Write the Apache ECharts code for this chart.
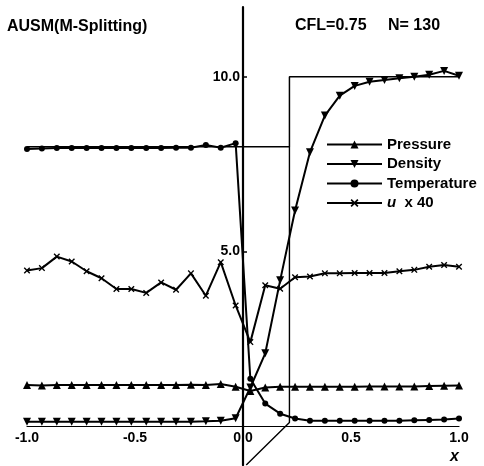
<!DOCTYPE html>
<html><head><meta charset="utf-8">
<script src="https://cdn.jsdelivr.net/npm/echarts@6/dist/echarts.min.js"></script>
<style>html,body{margin:0;padding:0;background:#fff}#c{width:484px;height:466px}</style>
</head><body><div id="c"></div>
<script>
// ---- data ----
const xs = [-1.0, -0.931, -0.862, -0.793, -0.724, -0.655, -0.586, -0.517, -0.448, -0.379,
            -0.31, -0.241, -0.172, -0.103, -0.034, 0.034, 0.103, 0.172, 0.241, 0.31,
            0.379, 0.448, 0.517, 0.586, 0.655, 0.724, 0.793, 0.862, 0.931, 1.0];
const pressure = [1.17, 1.16, 1.17, 1.17, 1.17, 1.17, 1.17, 1.17, 1.17, 1.17,
                  1.17, 1.18, 1.17, 1.2, 1.12, 1.0, 1.1, 1.12, 1.12, 1.12,
                  1.12, 1.12, 1.12, 1.13, 1.13, 1.13, 1.13, 1.14, 1.15, 1.16];
const density = [0.12, 0.12, 0.12, 0.12, 0.12, 0.12, 0.12, 0.12, 0.12, 0.12,
                 0.12, 0.12, 0.13, 0.15, 0.22, 1.1, 2.08, 4.17, 6.17, 7.84,
                 8.89, 9.46, 9.74, 9.86, 9.91, 9.96, 10.0, 10.06, 10.17, 10.03];
const temperature = [7.93, 7.95, 7.96, 7.96, 7.96, 7.96, 7.96, 7.96, 7.96, 7.96,
                     7.97, 7.97, 8.05, 7.97, 8.1, 1.35, 0.64, 0.35, 0.21, 0.15,
                     0.15, 0.15, 0.15, 0.15, 0.15, 0.15, 0.16, 0.17, 0.18, 0.21];
const u40 = [4.45, 4.52, 4.85, 4.71, 4.43, 4.23, 3.92, 3.92, 3.81, 4.11,
             3.9, 4.37, 3.73, 4.69, 3.45, 2.4, 4.03, 3.93, 4.26, 4.28,
             4.37, 4.37, 4.38, 4.38, 4.38, 4.43, 4.47, 4.56, 4.61, 4.56];
const exactUpperX = [-1.0, 0.215, 0.215, 1.0];
const exactUpperY = [8.0, 8.0, 10.0, 10.0];
const exactLowerX = [0.215, 0.215, 0.015];
const exactLowerY = [8.0, 0.1, -1.12];
const xTickValues = [-1.0, -0.5, 0.0, 0.5, 1.0];
const yTickValues = [5.0, 10.0];
const seriesNames = ['Pressure', 'Density', 'Temperature', 'u x 40'];

const FONT = 'Liberation Sans';
const pair = (xa, ya) => xa.map((x, i) => [x, ya[i]]);
const crossPath = 'path://M0,1.5L1.5,0L5,3.5L8.5,0L10,1.5L6.5,5L10,8.5L8.5,10L5,6.5L1.5,10L0,8.5L3.5,5Z';

// grid geometry (layout only)
const G = {left: 27, right: 25, top: 7, bottom: 1, W: 484, H: 466};
const X_MIN = -1, X_MAX = 1, Y_MIN = -1.12, Y_MAX = 12;
const gw = G.W - G.left - G.right, gh = G.H - G.top - G.bottom;
const zeroXpx = gw * (0 - X_MIN) / (X_MAX - X_MIN);          // from grid left
const zeroYpx = gh * (0 - Y_MIN) / (Y_MAX - Y_MIN);          // from grid bottom

const chart = echarts.init(document.getElementById('c'), null, {renderer: 'canvas'});
const dataLine = {color: '#000', width: 2};
function dataSeries(name, ys, symbol, size, rotate) {
  return {
    name, type: 'line', data: pair(xs, ys), symbol, symbolSize: size, symbolRotate: rotate || 0,
    showAllSymbol: true, lineStyle: dataLine, itemStyle: {color: '#000'}, z: 3, animation: false
  };
}
chart.setOption({
  backgroundColor: '#fff',
  animation: false,
  title: [
    {text: 'AUSM(M-Splitting)', left: 7, top: 19, padding: 0,
     textStyle: {fontFamily: FONT, fontSize: 16, fontWeight: 'bold', color: '#000'}},
    {text: 'CFL=0.75', left: 295, top: 18, padding: 0,
     textStyle: {fontFamily: FONT, fontSize: 16, fontWeight: 'bold', color: '#000'}},
    {text: 'N= 130', left: 388, top: 18, padding: 0,
     textStyle: {fontFamily: FONT, fontSize: 16, fontWeight: 'bold', color: '#000'}}
  ],
  graphic: [
    {type: 'text', left: 450, top: 449,
     style: {text: 'x', font: 'italic bold 16px "Liberation Sans"', fill: '#000'}}
  ],
  legend: {
    data: seriesNames, orient: 'vertical', left: 326, top: 137,
    itemWidth: 55, itemHeight: 10, itemGap: 4.5, padding: 0,
    textStyle: {fontFamily: FONT, fontSize: 15, fontWeight: 'bold', color: '#000',
                rich: {i: {fontFamily: FONT, fontSize: 15, fontWeight: 'bold', fontStyle: 'italic', color: '#000'}}},
    formatter: n => n === 'u x 40' ? '{i|u}  x 40' : n
  },
  grid: {left: G.left, right: G.right, top: G.top, bottom: G.bottom, containLabel: false, outerBoundsMode: 'none'},
  xAxis: {
    type: 'value', min: X_MIN, max: X_MAX, interval: 0.5,
    position: 'bottom', offset: -zeroYpx,
    axisLine: {show: true, onZero: false, lineStyle: {color: '#000', width: 1.2}},
    axisTick: {show: false},
    splitLine: {show: false},
    axisLabel: {fontFamily: FONT, fontSize: 14, fontWeight: 'bold', color: '#000', margin: 5,
                customValues: xTickValues, formatter: v => v.toFixed(1)}
  },
  yAxis: {
    type: 'value', min: Y_MIN, max: Y_MAX,
    position: 'left', offset: -zeroXpx,
    axisLine: {show: true, onZero: false, lineStyle: {color: '#000', width: 2.2}},
    axisTick: {show: true, inside: true, length: 4, customValues: yTickValues, lineStyle: {color: '#000', width: 1.5}},
    splitLine: {show: false},
    axisLabel: {fontFamily: FONT, fontSize: 14, fontWeight: 'bold', color: '#000', margin: 3,
                customValues: yTickValues, formatter: v => v.toFixed(1)}
  },
  series: [
    {name: 'exactUpper', type: 'line', data: pair(exactUpperX, exactUpperY), symbol: 'none',
     lineStyle: {color: '#000', width: 1.5}, z: 2},
    {name: 'exactLower', type: 'line', data: pair(exactLowerX, exactLowerY), symbol: 'none',
     lineStyle: {color: '#000', width: 1.4}, z: 2},
    dataSeries('Pressure', pressure, 'triangle', 8),
    dataSeries('Density', density, 'triangle', 8, 180),
    dataSeries('Temperature', temperature, 'circle', 6),
    dataSeries('u x 40', u40, crossPath, 6.5)
  ]
});
</script></body></html>
